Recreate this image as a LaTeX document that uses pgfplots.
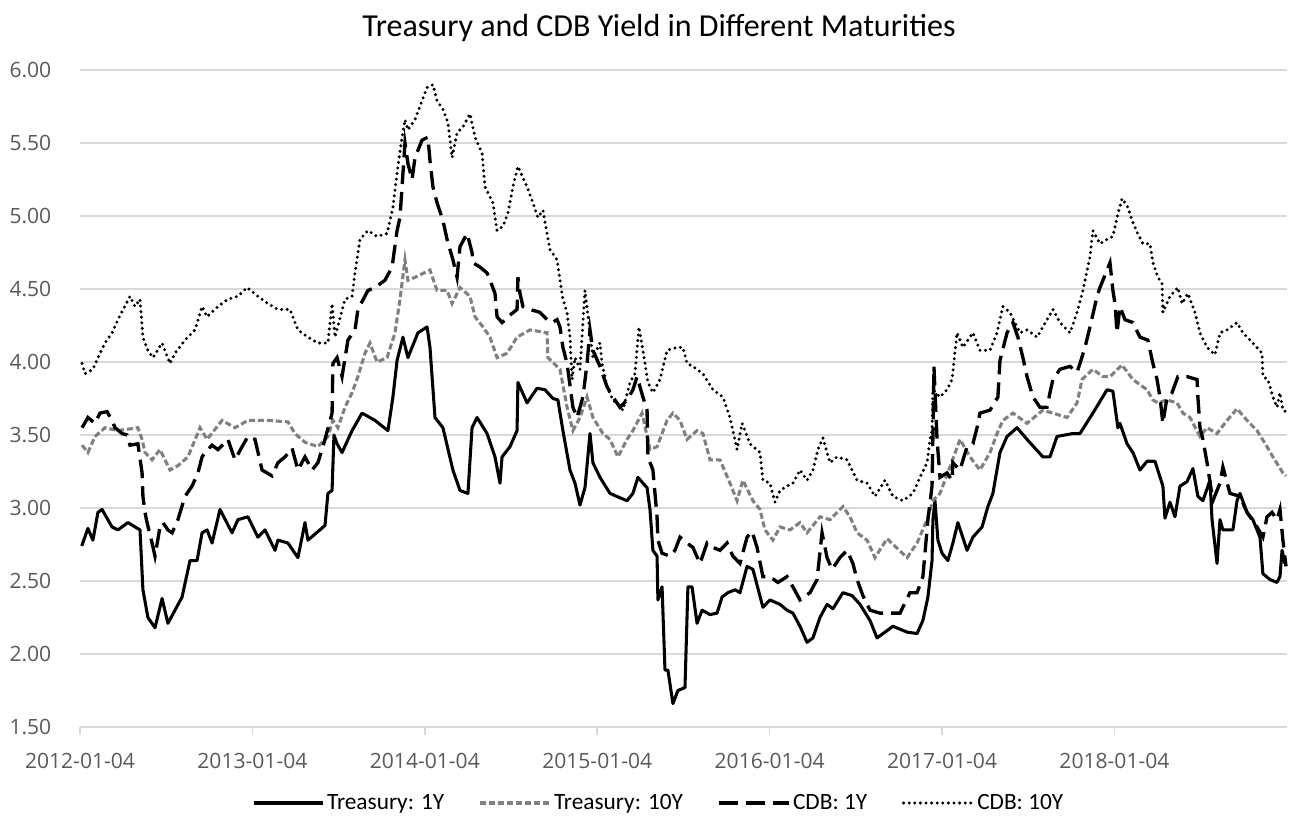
\documentclass[border=0pt]{standalone}
\usepackage{pgfplots}
\pgfplotsset{compat=1.18}
\usepackage{fontspec}
\setmainfont{Carlito}
\newfontfamily\tickfont{Open Sans}
\definecolor{gridc}{HTML}{D9D9D9}
\definecolor{tickc}{HTML}{595959}
\definecolor{grayline}{HTML}{808080}

\pgfplotstableread{
t v
0.010 2.74
0.046 2.86
0.075 2.78
0.104 2.97
0.128 2.99
0.186 2.87
0.220 2.85
0.278 2.90
0.348 2.85
0.365 2.44
0.394 2.25
0.435 2.18
0.476 2.38
0.510 2.21
0.592 2.39
0.638 2.64
0.679 2.64
0.708 2.83
0.737 2.85
0.766 2.76
0.812 2.99
0.882 2.83
0.916 2.92
0.974 2.94
1.032 2.80
1.073 2.85
1.131 2.71
1.148 2.78
1.206 2.76
1.264 2.66
1.305 2.90
1.322 2.78
1.421 2.88
1.438 3.10
1.462 3.12
1.473 3.50
1.491 3.44
1.520 3.38
1.578 3.53
1.636 3.65
1.711 3.60
1.786 3.53
1.815 3.76
1.839 4.01
1.873 4.17
1.902 4.03
1.960 4.20
2.013 4.24
2.030 4.10
2.059 3.62
2.105 3.55
2.163 3.26
2.204 3.12
2.250 3.10
2.274 3.55
2.303 3.62
2.361 3.51
2.407 3.35
2.436 3.17
2.448 3.35
2.494 3.42
2.535 3.53
2.540 3.86
2.593 3.72
2.651 3.82
2.697 3.81
2.743 3.75
2.772 3.74
2.801 3.53
2.842 3.26
2.871 3.17
2.900 3.02
2.929 3.14
2.958 3.51
2.975 3.31
3.016 3.21
3.074 3.10
3.132 3.07
3.173 3.05
3.207 3.10
3.236 3.21
3.265 3.17
3.289 3.14
3.306 2.99
3.323 2.71
3.347 2.67
3.352 2.37
3.376 2.46
3.393 1.89
3.410 1.89
3.439 1.66
3.468 1.75
3.509 1.77
3.526 2.46
3.550 2.46
3.579 2.21
3.608 2.30
3.654 2.27
3.695 2.28
3.724 2.39
3.758 2.42
3.799 2.44
3.828 2.42
3.869 2.60
3.903 2.58
3.961 2.32
4.002 2.37
4.060 2.34
4.101 2.30
4.135 2.28
4.176 2.19
4.217 2.08
4.251 2.11
4.292 2.25
4.333 2.34
4.367 2.31
4.425 2.42
4.478 2.40
4.524 2.34
4.582 2.23
4.623 2.11
4.681 2.16
4.715 2.19
4.797 2.15
4.855 2.14
4.889 2.23
4.918 2.39
4.942 2.64
4.947 2.92
4.959 3.05
4.976 2.78
5.000 2.69
5.034 2.64
5.063 2.76
5.092 2.90
5.145 2.71
5.179 2.80
5.232 2.87
5.266 3.01
5.295 3.10
5.336 3.38
5.377 3.49
5.435 3.55
5.493 3.47
5.585 3.35
5.626 3.35
5.667 3.49
5.759 3.51
5.800 3.51
5.875 3.65
5.957 3.81
5.991 3.80
6.020 3.55
6.032 3.58
6.073 3.44
6.107 3.38
6.148 3.26
6.189 3.32
6.235 3.32
6.281 3.15
6.293 2.93
6.322 3.04
6.351 2.94
6.380 3.15
6.421 3.18
6.455 3.27
6.484 3.08
6.513 3.05
6.554 3.19
6.566 2.92
6.595 2.62
6.612 2.92
6.629 2.85
6.687 2.85
6.711 3.05
6.728 3.10
6.769 2.97
6.803 2.92
6.844 2.80
6.861 2.55
6.902 2.51
6.943 2.49
6.960 2.53
6.972 2.71
6.989 2.62
}\tyone

\pgfplotstableread{
t v
0.012 3.43
0.046 3.38
0.087 3.49
0.145 3.55
0.220 3.53
0.336 3.55
0.360 3.47
0.377 3.38
0.418 3.33
0.464 3.40
0.522 3.26
0.568 3.29
0.626 3.35
0.696 3.55
0.737 3.47
0.824 3.60
0.899 3.55
0.974 3.60
1.090 3.60
1.206 3.59
1.247 3.51
1.305 3.45
1.380 3.42
1.438 3.49
1.467 3.60
1.496 3.55
1.537 3.69
1.578 3.79
1.612 3.90
1.653 4.06
1.682 4.13
1.723 4.00
1.781 4.03
1.827 4.20
1.856 4.43
1.885 4.70
1.902 4.56
1.943 4.58
2.030 4.63
2.071 4.49
2.129 4.49
2.158 4.40
2.204 4.51
2.262 4.45
2.291 4.31
2.337 4.24
2.378 4.17
2.419 4.03
2.477 4.06
2.535 4.17
2.610 4.22
2.709 4.20
2.714 4.03
2.784 3.95
2.825 3.69
2.859 3.53
2.900 3.62
2.941 3.76
2.975 3.62
3.033 3.51
3.074 3.47
3.120 3.35
3.173 3.47
3.207 3.53
3.260 3.65
3.306 3.40
3.347 3.42
3.405 3.60
3.439 3.65
3.480 3.60
3.521 3.47
3.579 3.53
3.613 3.51
3.654 3.33
3.712 3.33
3.770 3.17
3.811 3.05
3.845 3.19
3.903 3.05
3.944 2.99
3.973 2.85
4.019 2.78
4.060 2.87
4.118 2.85
4.176 2.90
4.217 2.83
4.292 2.94
4.350 2.92
4.425 3.01
4.466 2.94
4.507 2.83
4.565 2.78
4.611 2.66
4.681 2.79
4.797 2.66
4.855 2.76
4.913 2.92
4.947 3.05
4.988 3.10
5.046 3.28
5.104 3.47
5.162 3.35
5.220 3.26
5.278 3.38
5.319 3.51
5.353 3.60
5.411 3.65
5.493 3.58
5.585 3.67
5.643 3.65
5.725 3.62
5.783 3.72
5.812 3.88
5.875 3.95
5.933 3.90
5.974 3.90
6.044 3.98
6.107 3.88
6.189 3.81
6.223 3.74
6.252 3.72
6.305 3.74
6.363 3.72
6.397 3.65
6.438 3.62
6.496 3.49
6.537 3.55
6.595 3.51
6.653 3.60
6.711 3.68
6.769 3.60
6.827 3.53
6.885 3.42
6.919 3.35
6.977 3.24
6.995 3.22
}\tyten

\pgfplotstableread{
t v
0.012 3.55
0.046 3.62
0.087 3.58
0.116 3.65
0.157 3.66
0.186 3.60
0.203 3.55
0.244 3.51
0.273 3.50
0.290 3.43
0.336 3.44
0.360 3.24
0.365 3.08
0.377 2.97
0.389 2.90
0.418 2.76
0.435 2.67
0.464 2.87
0.481 2.90
0.510 2.85
0.534 2.83
0.568 2.92
0.609 3.08
0.650 3.15
0.684 3.24
0.708 3.35
0.725 3.38
0.766 3.43
0.800 3.40
0.858 3.47
0.899 3.33
0.940 3.42
0.974 3.49
1.015 3.47
1.056 3.26
1.114 3.22
1.148 3.31
1.189 3.35
1.230 3.41
1.264 3.26
1.305 3.35
1.346 3.26
1.380 3.31
1.421 3.47
1.462 3.65
1.467 3.99
1.491 4.03
1.520 3.90
1.554 4.15
1.595 4.22
1.612 4.36
1.670 4.49
1.711 4.51
1.769 4.56
1.810 4.65
1.839 4.90
1.856 4.99
1.868 5.20
1.885 5.50
1.902 5.36
1.926 5.25
1.943 5.40
1.984 5.52
2.018 5.54
2.030 5.38
2.047 5.20
2.071 5.09
2.105 4.97
2.129 4.84
2.163 4.70
2.187 4.58
2.204 4.79
2.245 4.88
2.274 4.75
2.279 4.68
2.320 4.65
2.361 4.61
2.378 4.56
2.407 4.47
2.419 4.31
2.448 4.27
2.482 4.31
2.535 4.36
2.540 4.58
2.552 4.47
2.569 4.38
2.610 4.36
2.668 4.34
2.709 4.29
2.738 4.27
2.767 4.29
2.784 4.24
2.801 4.10
2.825 3.99
2.859 3.69
2.883 3.62
2.917 3.76
2.941 3.99
2.958 4.22
2.975 4.08
3.016 3.97
3.057 3.83
3.091 3.76
3.132 3.69
3.173 3.74
3.207 3.81
3.231 3.90
3.248 3.83
3.265 3.76
3.289 3.67
3.294 3.35
3.323 3.26
3.347 2.94
3.352 2.78
3.376 2.69
3.422 2.67
3.451 2.71
3.480 2.80
3.521 2.76
3.555 2.73
3.596 2.62
3.637 2.76
3.671 2.73
3.712 2.71
3.753 2.76
3.787 2.67
3.828 2.62
3.869 2.80
3.898 2.84
3.927 2.73
3.961 2.53
4.002 2.53
4.048 2.49
4.101 2.53
4.135 2.46
4.176 2.37
4.234 2.42
4.275 2.51
4.304 2.83
4.333 2.66
4.362 2.58
4.408 2.66
4.449 2.71
4.483 2.62
4.507 2.51
4.541 2.40
4.582 2.30
4.640 2.28
4.698 2.28
4.756 2.28
4.814 2.42
4.855 2.42
4.889 2.53
4.918 2.92
4.942 3.15
4.947 3.49
4.953 3.97
4.971 3.47
4.988 3.21
5.029 3.24
5.058 3.19
5.063 3.31
5.104 3.26
5.145 3.42
5.179 3.44
5.203 3.55
5.220 3.65
5.278 3.67
5.324 3.76
5.336 4.01
5.377 4.20
5.411 4.27
5.440 4.17
5.469 4.03
5.493 3.90
5.527 3.76
5.568 3.69
5.609 3.69
5.626 3.79
5.643 3.88
5.684 3.95
5.742 3.97
5.783 3.93
5.800 3.99
5.829 4.10
5.858 4.24
5.899 4.45
5.916 4.51
5.957 4.63
5.974 4.68
5.991 4.49
6.003 4.40
6.015 4.20
6.032 4.38
6.061 4.29
6.107 4.27
6.148 4.17
6.194 4.15
6.223 3.99
6.247 3.88
6.264 3.76
6.281 3.58
6.305 3.76
6.334 3.79
6.368 3.90
6.421 3.90
6.479 3.88
6.484 3.76
6.496 3.55
6.513 3.47
6.537 3.31
6.571 3.05
6.612 3.17
6.629 3.28
6.670 3.10
6.728 3.08
6.769 2.97
6.827 2.87
6.861 2.80
6.885 2.94
6.914 2.97
6.943 2.92
6.960 2.99
6.977 2.78
6.995 2.60
}\cdbone

\pgfplotstableread{
t v
0.012 3.99
0.029 3.92
0.075 3.95
0.104 4.03
0.145 4.13
0.186 4.20
0.220 4.29
0.290 4.45
0.319 4.38
0.348 4.43
0.365 4.17
0.377 4.13
0.394 4.08
0.423 4.03
0.476 4.13
0.522 3.99
0.551 4.06
0.609 4.15
0.667 4.22
0.708 4.38
0.737 4.31
0.800 4.38
0.858 4.43
0.916 4.45
0.969 4.51
1.032 4.45
1.090 4.40
1.148 4.36
1.218 4.36
1.264 4.22
1.322 4.17
1.380 4.13
1.438 4.13
1.462 4.40
1.479 4.17
1.537 4.43
1.578 4.45
1.595 4.61
1.624 4.84
1.670 4.90
1.723 4.86
1.781 4.88
1.815 5.06
1.844 5.34
1.868 5.54
1.885 5.66
1.902 5.59
1.943 5.66
1.984 5.79
2.013 5.88
2.047 5.90
2.071 5.79
2.105 5.73
2.134 5.64
2.158 5.40
2.187 5.57
2.221 5.61
2.262 5.70
2.291 5.54
2.332 5.43
2.349 5.20
2.366 5.16
2.395 5.09
2.419 4.90
2.453 4.93
2.482 5.02
2.511 5.20
2.540 5.34
2.593 5.20
2.627 5.09
2.656 4.99
2.685 5.04
2.709 4.88
2.726 4.77
2.767 4.70
2.784 4.56
2.801 4.43
2.825 4.34
2.842 4.17
2.854 3.88
2.871 4.03
2.900 3.95
2.929 4.49
2.958 4.20
2.975 4.03
3.016 4.13
3.028 3.99
3.057 3.83
3.091 3.74
3.149 3.67
3.190 3.86
3.219 3.92
3.242 4.24
3.265 4.08
3.294 3.86
3.323 3.79
3.364 3.88
3.405 4.08
3.463 4.10
3.497 4.10
3.521 3.99
3.555 3.97
3.613 3.92
3.671 3.81
3.729 3.76
3.770 3.62
3.811 3.40
3.840 3.58
3.886 3.44
3.944 3.38
3.961 3.19
4.002 3.17
4.031 3.04
4.060 3.12
4.101 3.15
4.135 3.17
4.176 3.26
4.217 3.19
4.251 3.26
4.280 3.40
4.309 3.48
4.350 3.31
4.391 3.35
4.449 3.33
4.507 3.19
4.565 3.17
4.611 3.08
4.669 3.19
4.715 3.08
4.773 3.05
4.831 3.10
4.872 3.21
4.913 3.31
4.930 3.47
4.942 3.53
4.947 3.81
4.988 3.76
5.029 3.81
5.058 3.88
5.087 4.20
5.121 4.10
5.179 4.20
5.220 4.08
5.278 4.08
5.319 4.20
5.353 4.38
5.394 4.34
5.435 4.24
5.452 4.20
5.493 4.22
5.551 4.17
5.609 4.29
5.643 4.36
5.684 4.27
5.742 4.20
5.783 4.34
5.817 4.49
5.858 4.72
5.875 4.90
5.916 4.81
5.957 4.84
5.991 4.86
6.015 4.99
6.044 5.12
6.078 5.06
6.102 4.97
6.131 4.89
6.165 4.81
6.206 4.81
6.223 4.68
6.252 4.58
6.276 4.54
6.281 4.34
6.322 4.45
6.368 4.51
6.392 4.40
6.426 4.47
6.467 4.34
6.496 4.20
6.537 4.10
6.583 4.05
6.612 4.20
6.653 4.22
6.711 4.27
6.745 4.20
6.803 4.13
6.856 4.06
6.861 3.90
6.890 3.88
6.919 3.76
6.943 3.69
6.960 3.79
6.977 3.67
6.995 3.66
}\cdbten

\begin{document}
\begin{tikzpicture}
\begin{axis}[
  at={(0,0)}, anchor=south west,
  scale only axis,
  width=905.6pt, height=492.75pt,
  xmin=0, xmax=7.0035,
  ymin=1.5, ymax=6,
  xtick={0,1,2,3,4,5,6},
  xticklabels={2012-01-04,2013-01-04,2014-01-04,2015-01-04,2016-01-04,2017-01-04,2018-01-04},
  ytick={1.5,2,2.5,3,3.5,4,4.5,5,5.5,6},
  yticklabel={\pgfmathprintnumber[fixed,fixed zerofill,precision=2]{\tick}},
  /pgf/number format/assume math mode=true,
  ticklabel style={font=\tickfont\fontsize{15.8}{19}\selectfont, text=tickc},
  yticklabel style={xshift=-12pt},
  xticklabel style={yshift=-10pt},
  axis x line*=bottom,
  axis y line*=left,
  x axis line style={gridc, line width=1.1pt, -},
  y axis line style={draw=none},
  ymajorgrids,
  major grid style={gridc, line width=1.1pt},
  xtick style={gridc, line width=1.1pt},
  ytick style={draw=none},
  tick align=outside,
  major tick length=6pt,
  title={Treasury and CDB Yield in Different Maturities},
  title style={font=\fontsize{24}{29}\selectfont, at={(rel axis cs:0.4795,1)}, anchor=base, yshift=19.5pt},
  legend columns=4,
  legend style={draw=none, fill=none, at={(rel axis cs:0.4795,0)}, anchor=center, yshift=-57pt,
    font=\fontsize{17.5}{21}\selectfont, column sep=0pt,
    /tikz/every odd column/.append style={column sep=0pt},
    /tikz/every even column/.append style={column sep=24pt}},
  legend image code/.code={\draw[#1] (0pt,0pt) -- (52pt,0pt);},
  clip=false,
]
\addplot[black, line width=2.3pt, line join=round] table {\tyone};
\addlegendentry{Treasury: 1Y}
\addplot[grayline, line width=2.3pt, dash pattern=on 4.5pt off 2.2pt] table {\tyten};
\addlegendentry{Treasury: 10Y}
\addplot[black, line width=2.5pt, dash pattern=on 14pt off 6pt] table {\cdbone};
\addlegendentry{CDB: 1Y}
\addplot[black, line width=2.5pt, line cap=round, dash pattern=on 0pt off 4.2pt] table {\cdbten};
\addlegendentry{CDB: 10Y}
\end{axis}
\pgfresetboundingbox
\path[use as bounding box] (-60pt,-73.5pt) rectangle (906.75pt,545.25pt);
\end{tikzpicture}
\end{document}
